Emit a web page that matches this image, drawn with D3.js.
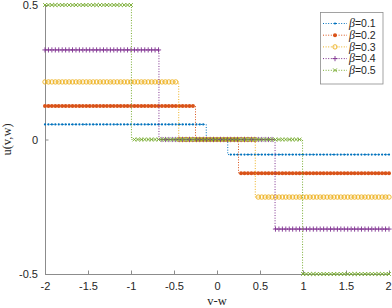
<!DOCTYPE html>
<html>
<head>
<meta charset="utf-8">
<script src="https://cdn.jsdelivr.net/npm/d3@7"></script>
<style>
  body { margin: 0; background: #fff; }
  .tick text { font-family: "Liberation Sans", Arial, sans-serif; font-size: 11px; fill: #262626; }
  .axisText { font-family: "Liberation Serif", "Times New Roman", serif; font-size: 12.5px; fill: #262626; }
  .legendText { font-family: "Liberation Sans", Arial, sans-serif; font-size: 10.5px; fill: #262626; }
</style>
</head>
<body>
<div id="chart"></div>
<script>
var svgWidth = 392;
var svgHeight = 308;

// data
var betaLabels = ["0.1", "0.2", "0.3", "0.4", "0.5"];
var levels = [0.056, 0.125, 0.214, 0.333, 0.5];     // u on the left plateau (minus that on the right)
var jumps = [0.125, 0.25, 0.445, 0.675, 0.995];     // |v-w| where the step happens
var colors = ["#0072BD", "#D95319", "#EDB120", "#7E2F8E", "#77AC30"];
var markers = ["dot", "disc", "circle", "plus", "cross"];
var xTicks = [-2, -1.5, -1, -0.5, 0, 0.5, 1, 1.5, 2];
var yTicks = [-0.5, 0, 0.5];

// sample grid of v-w (where markers sit)
var xs = d3.range(0, 101).map(i => Math.round((-2 + i * 0.04) * 100) / 100);

var xScale = d3.scaleLinear().domain([-2, 2]).range([45, 389]);
var yScale = d3.scaleLinear().domain([-0.5, 0.5]).range([274, 5]);

var svg = d3.select("#chart")
  .append("svg")
  .attr("width", svgWidth)
  .attr("height", svgHeight);

// axes (left and bottom only)
var axisColor = "#8c8c8c";
var bottomAxis = d3.axisBottom(xScale).tickValues(xTicks).tickSizeInner(-3.5).tickSizeOuter(0)
  .tickPadding(8).tickFormat(d => String(d));
var leftAxis = d3.axisLeft(yScale).tickValues(yTicks).tickSizeInner(-3.5).tickSizeOuter(0)
  .tickPadding(7).tickFormat(d => String(d));

var gx = svg.append("g").attr("transform", `translate(0, ${yScale(-0.5)})`).call(bottomAxis);
var gy = svg.append("g").attr("transform", `translate(${xScale(-2)}, 0)`).call(leftAxis);
[gx, gy].forEach(g => {
  g.select(".domain").attr("stroke", axisColor);
  g.selectAll(".tick line").attr("stroke", axisColor);
});
// keep the last x label inside the picture
gx.selectAll(".tick text").filter(d => d === 2).attr("dx", "-1px");

function stepValue(i, x) {
  if (x < -jumps[i]) return levels[i];
  if (x > jumps[i]) return -levels[i];
  return 0;
}

function drawMarker(g, kind, color, x, y) {
  if (kind === "dot") {
    g.append("circle").attr("cx", x).attr("cy", y).attr("r", 1.1).attr("fill", color);
  } else if (kind === "disc") {
    g.append("circle").attr("cx", x).attr("cy", y).attr("r", 2).attr("fill", color);
  } else if (kind === "circle") {
    g.append("circle").attr("cx", x).attr("cy", y).attr("r", 2.2)
      .attr("fill", "none").attr("stroke", color).attr("stroke-width", 0.9);
  } else if (kind === "plus") {
    g.append("path").attr("d", `M${x - 2.6},${y}H${x + 2.6}M${x},${y - 2.6}V${y + 2.6}`)
      .attr("stroke", color).attr("stroke-width", 0.9);
  } else {
    g.append("path").attr("d", `M${x - 1.9},${y - 1.9}L${x + 1.9},${y + 1.9}M${x - 1.9},${y + 1.9}L${x + 1.9},${y - 1.9}`)
      .attr("stroke", color).attr("stroke-width", 0.9);
  }
}

var line = d3.line().x(d => xScale(d[0])).y(d => yScale(d[1]));

levels.forEach(function(lv, i) {
  var g = svg.append("g");
  var t = jumps[i];
  var pts = [[-2, lv], [-t, lv], [-t, 0], [t, 0], [t, -lv], [2, -lv]];
  g.append("path")
    .attr("d", line(pts))
    .attr("fill", "none")
    .attr("stroke", colors[i])
    .attr("stroke-width", 1)
    .attr("stroke-dasharray", "1,1.6");
  xs.forEach(function(x) {
    drawMarker(g, markers[i], colors[i], xScale(x), yScale(stepValue(i, x)));
  });
});

// axis labels
svg.append("text")
  .attr("class", "axisText")
  .attr("x", (xScale(-2) + xScale(2)) / 2)
  .attr("y", 305)
  .attr("text-anchor", "middle")
  .text("v-w");

svg.append("text")
  .attr("class", "axisText")
  .attr("transform", `translate(11, ${(yScale(0.5) + yScale(-0.5)) / 2}) rotate(-90)`)
  .attr("text-anchor", "middle")
  .text("u(v,w)");

// legend
var legend = svg.append("g");
legend.append("rect")
  .attr("x", 320.5).attr("y", 12.5)
  .attr("width", 62.5).attr("height", 71.5)
  .attr("fill", "#fff").attr("stroke", axisColor).attr("stroke-width", 0.8);

betaLabels.forEach(function(b, i) {
  var y = 23.5 + i * 11.7;
  legend.append("line")
    .attr("x1", 323).attr("x2", 347).attr("y1", y).attr("y2", y)
    .attr("stroke", colors[i]).attr("stroke-width", 1).attr("stroke-dasharray", "1,1.6");
  drawMarker(legend, markers[i], colors[i], 335, y);
  var txt = legend.append("text").attr("class", "legendText")
    .attr("x", 349).attr("y", y + 3.8);
  txt.append("tspan").attr("font-family", "Liberation Serif, serif").attr("font-style", "italic")
    .attr("font-size", "12px").text("β");
  txt.append("tspan").text("=" + b);
});
</script>
</body>
</html>
